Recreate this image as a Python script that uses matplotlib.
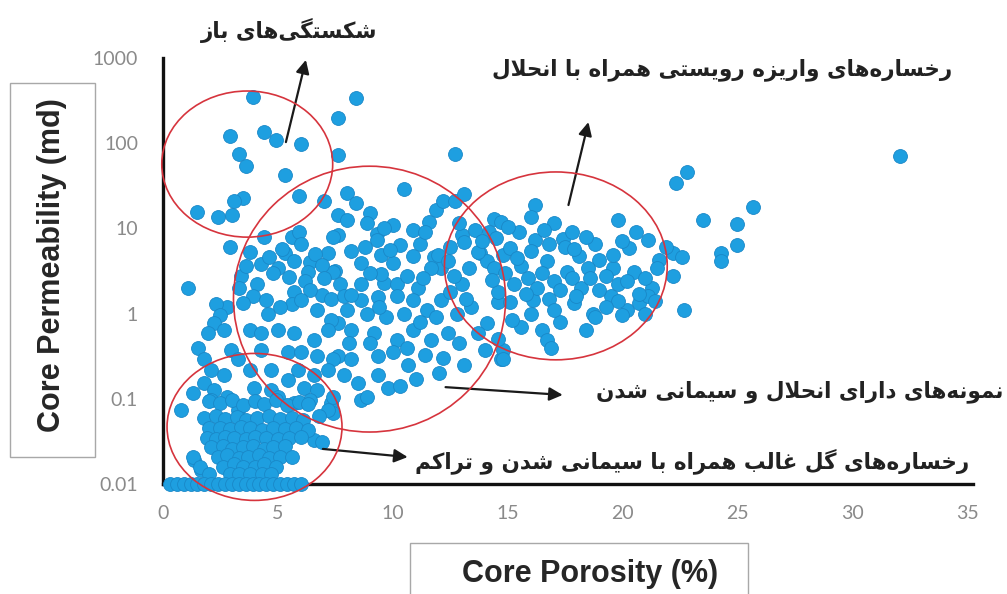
import matplotlib
matplotlib.use("Agg")
import matplotlib.pyplot as plt
from matplotlib.patches import Ellipse, Rectangle
from matplotlib.ticker import NullLocator

# ---------------------------------------------------------------- data
fracture_phi = [3.9, 2.9, 4.4, 4.9, 6.0, 3.3, 3.6, 5.3, 3.5, 3.1, 5.9, 7.0, 1.5, 2.4, 3.0,
                4.4, 2.9, 5.6, 5.9, 5.3, 1.1, 7.2, 7.6, 7.6, 8.4, 12.7, 10.5, 8.0, 8.4, 9.0,
                7.6, 8.0, 7.6, 9.3, 9.3, 10.9, 11.2, 10.3, 9.5, 10.9, 8.6, 10.0, 11.9, 12.2,
                12.7, 13.1, 13.0, 13.1, 14.4, 11.8, 12.1, 7.5, 7.7, 8.6, 9.6, 10.2, 11.1,
                13.0, 13.8, 14.1]
fracture_k = [350, 120, 135, 110, 98, 74, 54, 42, 23, 21, 24, 21, 15.5, 13.5, 14.5,
              8.0, 6.1, 8.0, 9.1, 5.1, 2.0, 5.1, 200, 73, 340, 75, 29, 26, 19.7, 15,
              14.4, 12.5, 8.4, 8.7, 7.3, 9.5, 6.6, 6.3, 4.9, 4.8, 3.9, 3.9, 16.4, 21,
              21, 25, 8.4, 7.0, 13, 4.6, 3.4, 3.2, 2.2, 2.2, 2.3, 2.2, 2.0,
              2.2, 5.1, 4.1]

mixed_phi = [4.26, 5.0, 5.7, 6.4, 6.3, 3.4, 4.1, 3.3, 5.7, 6.9, 7.4, 7.4, 3.8, 4.6, 5.2,
             6.0, 6.6, 6.9, 7.0, 6.2, 5.5, 4.8, 3.6, 3.9, 4.5, 5.6, 6.4, 7.3, 2.8, 2.3,
             7.87, 8.6, 9.35, 10.2, 10.9, 11.5, 12.1, 12.8, 13.4, 14.1, 14.6, 7.6, 8.2,
             9.2, 10.2, 10.9, 11.65, 12.4, 7.6, 8.2, 9.35, 10.0, 10.65, 14.0, 14.7, 7.9,
             8.5, 9.35, 9.8, 8.6, 8.9, 7.3, 7.4,
             3.5, 4.57, 5.1, 6.0, 6.7, 7.3, 2.5, 2.2, 2.65, 1.96, 3.8, 4.26, 5.0, 5.7,
             6.57, 7.2, 1.52, 2.96, 3.26, 1.78, 4.26, 5.43, 6.0, 6.7, 7.4, 2.1, 2.65,
             3.8, 4.7, 5.87, 6.57, 7.2, 1.78, 2.2, 1.3, 3.96, 4.7, 5.43, 6.13, 6.7, 7.4,
             0.78, 2.1, 2.8, 3.26, 5.0, 5.7, 6.4, 7.2, 1.35, 1.65, 6.57,
             9.5, 11.65, 11.95, 12.4, 12.65, 13.3, 13.7, 14.4, 14.8, 14.6, 8.2,
             8.9, 9.7, 10.5, 11.2, 11.9, 12.5, 13.2, 13.7, 12.9, 11.4, 12.2, 13.1, 10.6,
             9.0, 8.1, 11.0, 10.3, 12.0, 8.0, 9.4, 10.6, 11.3, 9.0, 8.2, 8.8, 9.9, 12.5,
             12.9, 13.6, 11.6, 10.0, 14.2, 13.9, 9.6, 8.9, 11.4]
mixed_k = [3.8, 3.4, 4.1, 4.0, 3.1, 2.8, 2.2, 2.0, 1.8, 1.65, 3.1, 8.0, 5.3, 4.6, 5.8,
           6.5, 5.0, 3.7, 2.6, 2.4, 2.7, 3.0, 3.6, 1.6, 1.45, 1.3, 1.9, 1.5, 1.2, 1.3,
           1.6, 1.44, 1.55, 1.6, 1.44, 1.1, 1.44, 1.0, 1.2, 0.77, 1.35, 0.77, 0.64,
           0.6, 0.49, 0.64, 0.49, 0.6, 0.32, 0.29, 0.32, 0.35, 0.25, 0.37, 0.29, 0.19,
           0.155, 0.19, 0.135, 0.097, 0.105, 0.089, 0.069,
           1.33, 1.0, 1.2, 1.44, 1.1, 0.84, 0.95, 0.77, 0.64, 0.6, 0.64, 0.6, 0.64, 0.6,
           0.49, 0.64, 0.39, 0.37, 0.29, 0.29, 0.37, 0.35, 0.35, 0.32, 0.29, 0.22, 0.19,
           0.22, 0.22, 0.22, 0.19, 0.22, 0.155, 0.127, 0.118, 0.135, 0.127, 0.166, 0.135, 0.127, 0.105,
           0.074, 0.097, 0.105, 0.074, 0.105, 0.089, 0.097, 0.074, 0.019, 0.0146, 0.033,
           2.9, 3.4, 4.9, 4.1, 2.8, 3.4, 5.3, 3.4, 4.9, 1.8, 1.65,
           1.0, 0.9, 1.0, 0.8, 0.9, 1.8, 1.5, 0.6, 0.45, 0.33, 0.3, 0.25, 0.4,
           0.45, 0.45, 0.17, 0.14, 0.2, 1.1, 1.2, 2.8, 2.6, 3.0, 5.5, 6.0, 5.6, 6.0,
           11.5, 9.5, 12, 11, 9.0, 7.2, 10.0, 11.5, 9.0]

vuggy_phi = [16.2, 16.0, 17.0, 19.8, 16.2, 17.4, 17.5, 18.1, 19.0, 20.3, 21.1, 21.6, 22.2,
             22.2, 15.1, 14.7, 16.7, 17.6, 18.5, 19.6, 20.5, 21.3,
             15.1, 15.6, 16.5, 16.7, 16.9, 17.3, 18.4, 18.7, 20.2, 20.7, 21.1, 22.7, 17.9,
             16.1, 14.8, 14.8, 19.5,
             14.3, 14.9, 15.3, 15.6, 15.9, 16.3, 16.5, 17.0, 17.3, 17.8, 18.2, 18.6, 19.0,
             19.3, 19.8, 20.2, 20.7, 21.0, 21.5, 15.8, 16.8, 18.0, 19.8, 21.4, 15.4, 16.0,
             16.8, 17.9, 18.8, 19.6, 20.0, 15.5, 16.6, 17.8, 18.4, 14.5, 15.0, 20.6, 21.9,
             14.6, 15.2, 16.0, 17.0, 18.8, 19.3, 20.0, 21.0,
             22.8, 22.35, 25.7, 23.5, 25.0, 25.0, 24.3, 24.3, 22.6, 32.1]
vuggy_k = [18.8, 13.6, 11.5, 12.4, 7.3, 7.6, 6.1, 4.8, 4.3, 5.9, 7.3, 4.3, 5.1,
           2.8, 5.9, 12, 4.1, 3.1, 3.4, 3.4, 3.1, 2.0,
           1.35, 0.70, 0.64, 0.49, 0.40, 0.8, 0.64, 1.0, 1.1, 1.33, 1.6, 1.1, 1.33,
           1.44, 0.37, 0.29, 1.6,
           2.5, 3.0, 2.2, 3.6, 2.6, 2.0, 3.0, 2.4, 1.9, 2.6, 2.0, 2.6, 1.9,
           2.8, 2.2, 2.4, 1.7, 2.6, 3.4, 1.7, 1.5, 1.6, 1.4, 1.4, 4.5, 5.4,
           6.5, 5.7, 6.6, 4.9, 7.2, 9.0, 9.5, 9.0, 8.0, 7.8, 10.5, 9.0, 6.0,
           0.5, 0.85, 1.0, 1.1, 0.9, 1.2, 0.95, 1.0,
           46, 34, 17.8, 12.4, 11.2, 6.4, 5.1, 4.1, 4.6, 70]

mud_phi = [2.0, 2.5, 3.0, 3.5, 4.0, 4.4, 4.9, 5.4, 5.9, 6.3,
           1.8, 2.3, 2.7, 3.2, 3.6, 4.1, 4.6, 5.1, 5.6, 6.1, 6.8,
           2.0, 2.5, 2.9, 3.4, 3.8, 4.3, 4.8, 5.3, 5.8, 6.3,
           1.9, 2.3, 2.7, 3.1, 3.6, 4.0, 4.5, 5.0, 5.5, 6.0, 6.9,
           2.1, 2.6, 3.0, 3.5, 3.9, 4.4, 4.8, 5.3,
           1.3, 2.4, 2.8, 3.3, 3.7, 4.2, 4.6, 5.1, 5.6,
           1.6, 2.6, 3.1, 3.5, 4.0, 4.4, 4.9,
           2.0, 2.9, 3.3, 3.8, 4.3, 4.7,
           0.3, 0.6, 0.9, 1.2, 1.5, 1.8, 2.1, 2.4, 2.7, 3.0, 3.3, 3.6, 3.9, 4.2, 4.5,
           4.8, 5.1, 5.4, 5.7, 6.0]
mud_k = [0.095, 0.09, 0.098, 0.085, 0.095, 0.088, 0.097, 0.085, 0.092, 0.088,
         0.06, 0.062, 0.058, 0.061, 0.057, 0.06, 0.063, 0.058, 0.06, 0.056, 0.062,
         0.045, 0.046, 0.044, 0.047, 0.045, 0.043, 0.046, 0.044, 0.045, 0.043,
         0.035, 0.034, 0.036, 0.035, 0.034, 0.036, 0.035, 0.034, 0.035, 0.036, 0.031,
         0.027, 0.028, 0.026, 0.027, 0.028, 0.026, 0.027, 0.028,
         0.021, 0.021, 0.022, 0.02, 0.021, 0.022, 0.02, 0.021, 0.021,
         0.016, 0.016, 0.017, 0.016, 0.016, 0.017, 0.016,
         0.013, 0.013, 0.013, 0.013, 0.013, 0.013,
         0.01, 0.01, 0.01, 0.01, 0.01, 0.01, 0.01, 0.01, 0.01, 0.01, 0.01, 0.01, 0.01,
         0.01, 0.01, 0.01, 0.01, 0.01, 0.01, 0.01]

porosity = fracture_phi + mixed_phi + vuggy_phi + mud_phi
permeability = fracture_k + mixed_k + vuggy_k + mud_k

x_ticks = [0, 5, 10, 15, 20, 25, 30, 35]
y_ticks = [0.01, 0.1, 1, 10, 100, 1000]
y_tick_labels = ["0.01", "0.1", "1", "10", "100", "1000"]

label_fractures = "شکستگی\u200cهای باز"
label_vuggy = "رخساره\u200cهای واریزه رویستی همراه با انحلال"
label_mixed = "نمونه\u200cهای دارای انحلال و سیمانی شدن"
label_mud = "رخساره\u200cهای گل غالب همراه با سیمانی شدن و تراکم"

# ------------------------------------------------ Arabic-script shaping
# contextual forms: (isolated, final, initial, medial); right-joining letters keep two
FORMS = {
    "\u0627": ("\uFE8D", "\uFE8E"),
    "\u0628": ("\uFE8F", "\uFE90", "\uFE91", "\uFE92"),
    "\u062A": ("\uFE95", "\uFE96", "\uFE97", "\uFE98"),
    "\u062D": ("\uFEA1", "\uFEA2", "\uFEA3", "\uFEA4"),
    "\u062E": ("\uFEA5", "\uFEA6", "\uFEA7", "\uFEA8"),
    "\u062F": ("\uFEA9", "\uFEAA"),
    "\u0631": ("\uFEAD", "\uFEAE"),
    "\u0632": ("\uFEAF", "\uFEB0"),
    "\u0633": ("\uFEB1", "\uFEB2", "\uFEB3", "\uFEB4"),
    "\u0634": ("\uFEB5", "\uFEB6", "\uFEB7", "\uFEB8"),
    "\u063A": ("\uFECD", "\uFECE", "\uFECF", "\uFED0"),
    "\u0644": ("\uFEDD", "\uFEDE", "\uFEDF", "\uFEE0"),
    "\u0645": ("\uFEE1", "\uFEE2", "\uFEE3", "\uFEE4"),
    "\u0646": ("\uFEE5", "\uFEE6", "\uFEE7", "\uFEE8"),
    "\u0647": ("\uFEE9", "\uFEEA", "\uFEEB", "\uFEEC"),
    "\u0648": ("\uFEED", "\uFEEE"),
    "\u06CC": ("\uFBFC", "\uFBFD", "\uFBFE", "\uFBFF"),
    "\u06A9": ("\uFB8E", "\uFB8F", "\uFB90", "\uFB91"),
    "\u06AF": ("\uFB92", "\uFB93", "\uFB94", "\uFB95"),
}
LAM_ALEF = ("\uFEFB", "\uFEFC")


def shape(text):
    def dual(c):
        return c in FORMS and len(FORMS[c]) == 4

    chars = list(text)
    n = len(chars)
    out = []
    i = 0
    while i < n:
        c = chars[i]
        if c not in FORMS:
            if c != "\u200c":
                out.append(c)
            i += 1
            continue
        joins_prev = i > 0 and dual(chars[i - 1])
        if c == "\u0644" and i + 1 < n and chars[i + 1] == "\u0627":
            out.append(LAM_ALEF[1] if joins_prev else LAM_ALEF[0])
            i += 2
            continue
        joins_next = dual(c) and i + 1 < n and chars[i + 1] in FORMS
        f = FORMS[c]
        if joins_prev and joins_next:
            g = f[3]
        elif joins_prev:
            g = f[1]
        elif joins_next:
            g = f[2]
        else:
            g = f[0]
        out.append(g)
        i += 1
    return "".join(reversed(out))


# ---------------------------------------------------------------- figure
W, H = 1007, 594
fig = plt.figure(figsize=(W / 100, H / 100), dpi=100)
ax = fig.add_axes([163 / W, 1 - 484 / H, (973 - 163) / W, (484 - 58) / H])

ax.set_yscale("log")
ax.set_xlim(0, 35.26)
ax.set_ylim(0.01, 1000)

ax.scatter(porosity, permeability, s=100, c="#1e9fe0", edgecolors="#1a88c8",
           linewidths=0.6, zorder=3, clip_on=False)

ax.set_xticks(x_ticks)
ax.set_xticklabels([str(t) for t in x_ticks])
ax.set_yticks(y_ticks)
ax.set_yticklabels(y_tick_labels)
ax.yaxis.set_minor_locator(NullLocator())
ax.tick_params(length=0, labelsize=14, labelcolor="#8a8a8a")
ax.tick_params(axis="y", pad=18)
ax.tick_params(axis="x", pad=15)
for lab in ax.get_xticklabels() + ax.get_yticklabels():
    lab.set_family("Lato")

for side in ("top", "right"):
    ax.spines[side].set_visible(False)
for side in ("left", "bottom"):
    ax.spines[side].set_linewidth(2.4)
    ax.spines[side].set_color("#111111")

# group outlines (axes-fraction units)
ellipses = [
    ((0.104, 0.751), 0.211, 0.343),
    ((0.255, 0.434), 0.336, 0.624),
    ((0.485, 0.512), 0.275, 0.441),
    ((0.113, 0.134), 0.216, 0.345),
]
for center, w, h in ellipses:
    ax.add_patch(Ellipse(center, w, h, transform=ax.transAxes, fill=False,
                         edgecolor="#d6343d", linewidth=1.2, clip_on=False, zorder=4))

# pointers from each group to its description
arrows = [
    ((5.35, 103), (6.22, 950)),
    ((17.65, 18.8), (18.52, 177)),
    ((12.3, 0.137), (17.4, 0.111)),
    ((6.96, 0.0258), (10.65, 0.0207)),
]
for tail, head in arrows:
    ax.annotate("", xy=head, xytext=tail, annotation_clip=False,
                arrowprops=dict(arrowstyle="-|>", color="#1a1a1a", lw=1.6,
                                mutation_scale=20, shrinkA=0, shrinkB=0))

# group descriptions
fa_style = dict(fontsize=15.5, fontweight="bold", color="#222222",
                family=["DejaVu Sans"], ha="center", va="center")
fig.text(289 / W, 1 - 30 / H, shape(label_fractures), **fa_style)
fig.text(722 / W, 1 - 70 / H, shape(label_vuggy), **fa_style)
fig.text(800 / W, 1 - 392 / H, shape(label_mixed), **fa_style)
fig.text(692 / W, 1 - 461 / H, shape(label_mud), **fa_style)

# boxed axis titles
fig.patches.append(Rectangle((10 / W, 1 - 457 / H), 85 / W, (457 - 83) / H,
                             transform=fig.transFigure, fill=False,
                             edgecolor="#a8a8a8", linewidth=1.0))
fig.patches.append(Rectangle((410 / W, 1 - 610 / H), 338 / W, (610 - 543) / H,
                             transform=fig.transFigure, fill=False,
                             edgecolor="#a8a8a8", linewidth=1.0))
fig.text(52 / W, 1 - 265 / H, "Core Permeability (md)", rotation=90,
         ha="center", va="center", fontsize=22, fontweight="bold",
         family="Liberation Sans", color="#262626")
fig.text(590 / W, 1 - 574 / H, "Core Porosity (%)", ha="center", va="center",
         fontsize=22, fontweight="bold", family="Liberation Sans", color="#262626")

fig.savefig("out.png", dpi=100)
